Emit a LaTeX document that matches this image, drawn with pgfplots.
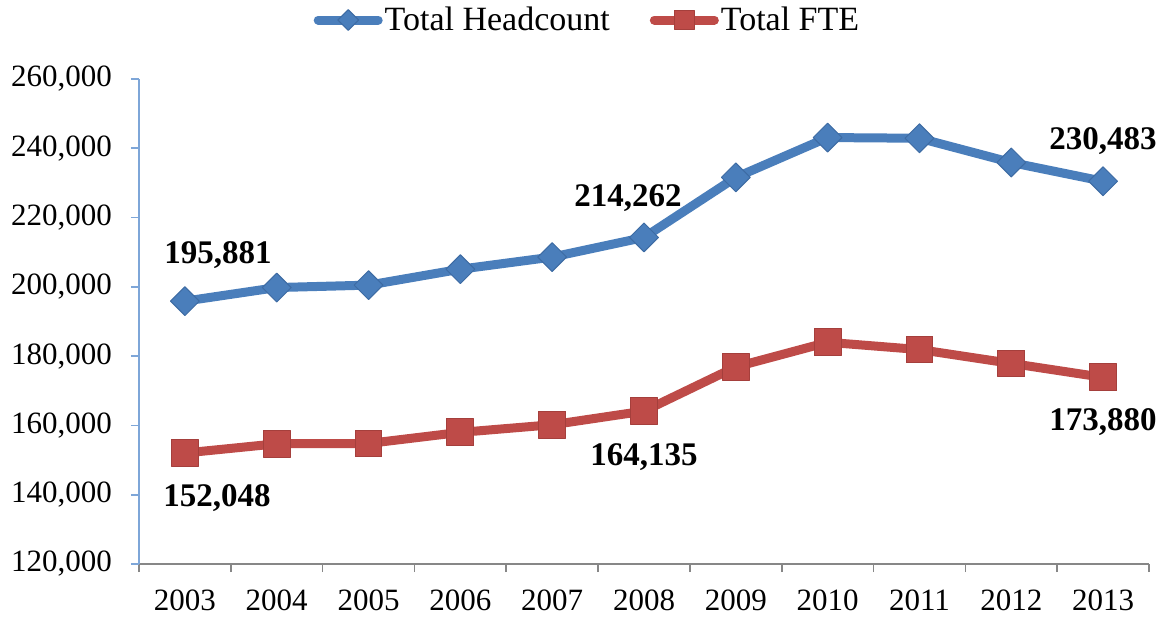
\documentclass[border=0pt]{standalone}
\usepackage{fontspec}
\setmainfont{Liberation Serif}
\usepackage{pgfplots}
\pgfplotsset{compat=1.18}
\definecolor{hcblue}{HTML}{4A7EBB}
\definecolor{hcedge}{HTML}{3D6BA3}
\definecolor{ftered}{HTML}{BE4B48}
\definecolor{fteedge}{HTML}{A53F3C}
\definecolor{yaxcol}{HTML}{7EA6D8}
\definecolor{xaxcol}{HTML}{878787}
\tikzset{lab/.style={font=\fontsize{16.5}{19}\bfseries\selectfont, text=black, inner sep=0pt}}
\begin{document}
\begin{tikzpicture}
\begin{axis}[
  scale only axis, width=505pt, height=242.5pt,
  xmin=-0.5, xmax=10.5, ymin=120000, ymax=260000,
  clip=false,
  axis x line*=bottom, axis y line*=left,
  x axis line style={xaxcol, line width=1pt},
  y axis line style={yaxcol, line width=1pt},
  xtick={-0.5,0.5,...,10.5}, xticklabels={},
  extra x ticks={0,1,2,3,4,5,6,7,8,9,10},
  extra x tick labels={2003,2004,2005,2006,2007,2008,2009,2010,2011,2012,2013},
  extra x tick style={major tick length=0pt, xticklabel style={yshift=-9.5pt}},
  x tick style={xaxcol, line width=0.8pt},
  ytick={120000,140000,...,260000},
  y tick style={yaxcol, line width=0.8pt},
  tick align=outside, major tick length=4pt,
  scaled y ticks=false,
  /pgf/number format/1000 sep={,},
  /pgf/number format/fixed,
  /pgf/number format/assume math mode=true,
  ticklabel style={font=\fontsize{15.5}{18}\selectfont, text=black},
  yticklabel style={xshift=-6pt},
  legend style={at={(0.444,1)}, anchor=center, yshift=29.5pt, draw=none, fill=none,
    legend columns=2, font=\fontsize{17}{20}\selectfont,
    nodes={inner sep=1pt},
    /tikz/every even column/.append style={column sep=19pt}},
  legend image code/.code={\draw[#1, line cap=round, every mark/.append style={scale=0.72}]
     plot coordinates {(0pt,0pt) (15pt,0pt) (30pt,0pt)};},
  legend image post style={mark repeat=2, mark phase=2},
]
\addplot[hcblue, line width=4.5pt, line join=round,
  mark=square*, mark size=5.1pt,
  mark options={solid, rotate=45, fill=hcblue, draw=hcedge, line width=0.5pt}]
  coordinates {(0,195881) (1,199800) (2,200500) (3,205100) (4,208600) (5,214262)
               (6,231600) (7,243100) (8,242900) (9,235900) (10,230483)};
\addlegendentry{Total Headcount}
\addplot[ftered, line width=4.5pt, line join=round,
  mark=square*, mark size=6.7pt,
  mark options={solid, fill=ftered, draw=fteedge, line width=0.5pt}]
  coordinates {(0,152048) (1,154700) (2,154800) (3,158000) (4,160200) (5,164135)
               (6,176900) (7,184000) (8,181900) (9,177900) (10,173880)};
\addlegendentry{Total FTE}
\node[lab, xshift=16.5pt, yshift=23pt] at (axis cs:0,195881) {195,881};
\node[lab, xshift=-8pt, yshift=19.5pt] at (axis cs:5,214262) {214,262};
\node[lab, yshift=20pt] at (axis cs:10,230483) {230,483};
\node[lab, xshift=16pt, yshift=-22.5pt] at (axis cs:0,152048) {152,048};
\node[lab, xshift=0pt, yshift=-23pt] at (axis cs:5,164135) {164,135};
\node[lab, yshift=-22.5pt] at (axis cs:10,173880) {173,880};
\coordinate (sw) at (rel axis cs:0,0);
\end{axis}
\pgfresetboundingbox
\useasboundingbox ([shift={(-69.5pt,-27pt)}]sw) rectangle ++(583.5pt,309pt);
\end{tikzpicture}
\end{document}
